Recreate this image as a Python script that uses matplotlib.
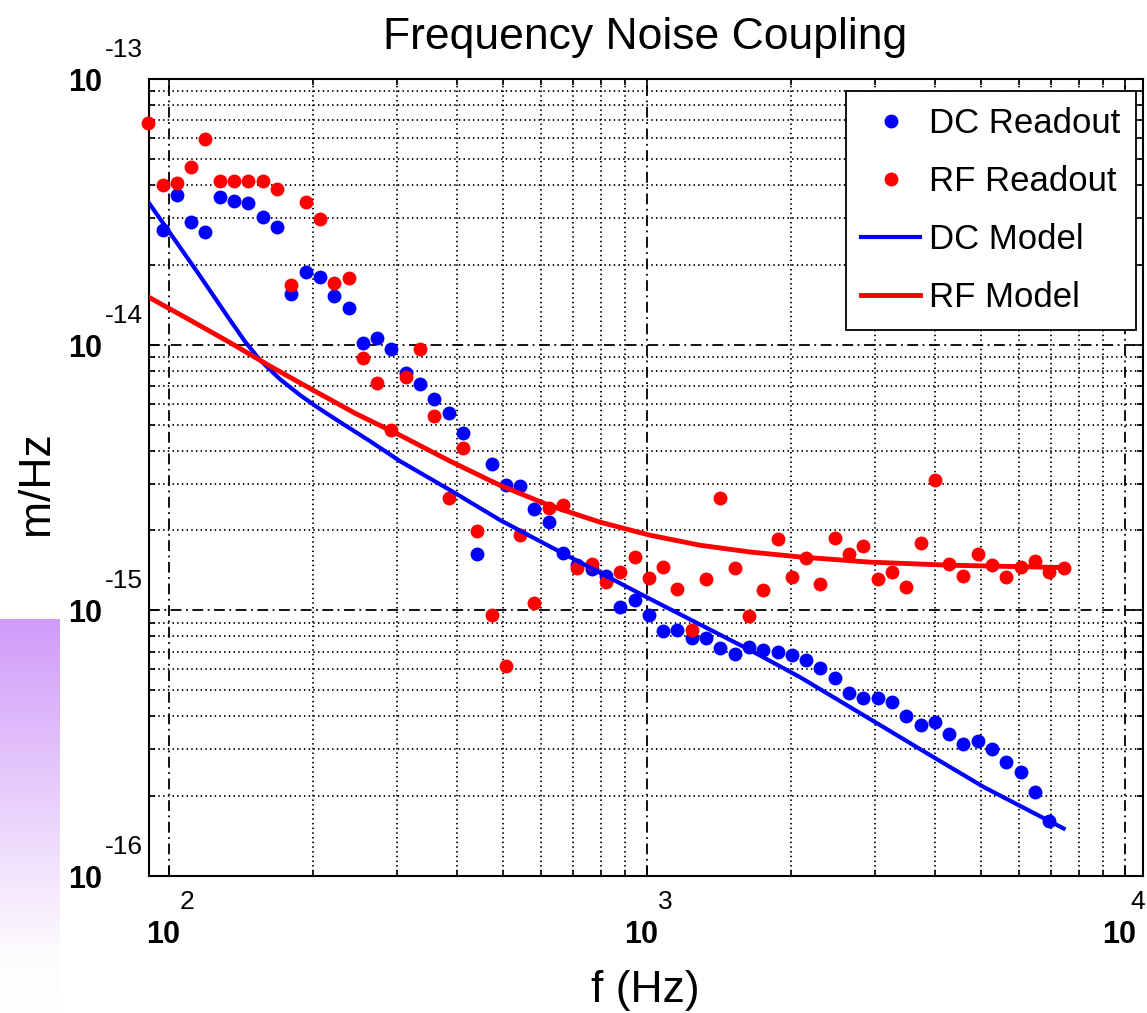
import numpy as np
import matplotlib
matplotlib.use("Agg")
import matplotlib.pyplot as plt
from matplotlib.ticker import LogLocator, NullFormatter
from matplotlib.colors import LinearSegmentedColormap

# frequencies of the measured points (Hz)
freq = [90.4, 96.8, 103.7, 111.1, 119.0, 127.5, 136.6, 146.4, 156.8, 168.0,
        180.0, 192.9, 206.6, 221.3, 237.2, 254.1, 272.2, 291.5, 312.4, 334.6,
        358.5, 384.0, 411.4, 440.9, 472.3, 505.8, 541.9, 580.5, 622.2, 666.5,
        714.0, 764.9, 819.4, 877.9, 940.4, 1007, 1079, 1156, 1239, 1327,
        1422, 1523, 1631, 1748, 1873, 2006, 2149, 2302, 2467, 2642,
        2831, 3033, 3249, 3481, 3729, 3995, 4280, 4585, 4912, 5262,
        5637, 6039, 6470, 6934, 7429]

dc_readout = [np.nan, 2.71e-14, 3.67e-14, 2.91e-14, 2.67e-14, 3.61e-14, 3.48e-14, 3.41e-14, 3.04e-14, 2.78e-14,
              1.55e-14, 1.88e-14, 1.80e-14, 1.53e-14, 1.38e-14, 1.02e-14, 1.06e-14, 9.62e-15, 7.83e-15, 7.10e-15,
              6.25e-15, 5.52e-15, 4.67e-15, 1.63e-15, 3.55e-15, 2.96e-15, 2.95e-15, 2.41e-15, 2.15e-15, 1.64e-15,
              1.48e-15, 1.43e-15, 1.35e-15, 1.03e-15, 1.09e-15, 9.60e-16, 8.36e-16, 8.43e-16, 7.84e-16, 7.88e-16,
              7.23e-16, 6.85e-16, 7.26e-16, 7.09e-16, 6.98e-16, 6.79e-16, 6.50e-16, 6.05e-16, 5.57e-16, 4.87e-16,
              4.70e-16, 4.70e-16, 4.53e-16, 4.01e-16, 3.70e-16, 3.80e-16, 3.44e-16, 3.15e-16, 3.22e-16, 3.00e-16,
              2.68e-16, 2.47e-16, 2.07e-16, 1.61e-16, np.nan]

rf_readout = [6.83e-14, 4.00e-14, 4.06e-14, 4.69e-14, 5.94e-14, 4.15e-14, 4.15e-14, 4.15e-14, 4.15e-14, 3.85e-14,
              1.68e-14, 3.46e-14, 2.97e-14, 1.71e-14, 1.79e-14, 8.90e-15, 7.16e-15, 4.78e-15, 7.58e-15, 9.62e-15,
              5.41e-15, 2.66e-15, 4.08e-15, 1.99e-15, 9.60e-16, 6.17e-16, 1.93e-15, 1.07e-15, 2.43e-15, 2.49e-15,
              1.44e-15, 1.50e-15, 1.28e-15, 1.39e-15, 1.59e-15, 1.33e-15, 1.46e-15, 1.20e-15, 8.43e-16, 1.31e-15,
              2.65e-15, 1.44e-15, 9.54e-16, 1.19e-15, 1.86e-15, 1.34e-15, 1.58e-15, 1.26e-15, 1.87e-15, 1.63e-15,
              1.75e-15, 1.31e-15, 1.39e-15, 1.23e-15, 1.79e-15, 3.10e-15, 1.50e-15, 1.35e-15, 1.63e-15, 1.48e-15,
              1.34e-15, 1.46e-15, 1.54e-15, 1.39e-15, 1.45e-15]

# model curves
dc_model_freq = [90.7, 102.8, 115.9, 134.0, 144.0, 154.8, 170.4, 187.7, 206.7, 227.6,
                 263.0, 303.8, 386.6, 491.8, 666.2, 998.6, 1640, 2086, 2923, 3999,
                 5063, 7429]
dc_model = [3.42e-14, 2.48e-14, 1.82e-14, 1.24e-14, 1.03e-14, 8.77e-15, 7.43e-15, 6.47e-15, 5.73e-15, 5.12e-15,
            4.34e-15, 3.65e-15, 2.84e-15, 2.19e-15, 1.64e-15, 1.12e-15, 7.09e-16, 5.61e-16, 3.90e-16, 2.78e-16,
            2.16e-16, 1.51e-16]

rf_model_freq = [90.7, 110.5, 134.0, 162.4, 199.7, 244.6, 303.8, 386.6, 491.8, 625.8,
                 796.2, 1013, 1289, 1640, 2086, 2923, 4298, 7429]
rf_model = [1.51e-14, 1.24e-14, 1.02e-14, 8.32e-15, 6.76e-15, 5.53e-15, 4.57e-15, 3.65e-15, 2.96e-15, 2.48e-15,
            2.15e-15, 1.92e-15, 1.76e-15, 1.66e-15, 1.59e-15, 1.52e-15, 1.48e-15, 1.45e-15]

plt.rcParams["font.family"] = ["Liberation Sans", "DejaVu Sans"]

W, H = 1147, 1013
fig = plt.figure(figsize=(W / 100, H / 100), dpi=100)

# purple gradient strip at lower left
gax = fig.add_axes([0, 0, 60 / W, (H - 619) / H])
cmap = LinearSegmentedColormap.from_list("strip", [(0, "#ffffff"), (0.15, "#fdfbfe"), (1, "#d09cf9")])
grad = np.linspace(0, 1, 200).reshape(-1, 1)
gax.imshow(grad, aspect="auto", cmap=cmap, origin="lower")
gax.axis("off")

ax = fig.add_axes([149 / W, 1 - 876 / H, (1143 - 149) / W, (876 - 79.3) / H])
ax.set_xscale("log")
ax.set_yscale("log")

ax.plot(freq, dc_readout, "o", color="#0000ff", ms=10, mew=0, label="DC Readout", zorder=3, clip_on=False)
ax.plot(freq, rf_readout, "o", color="#ff0000", ms=10, mew=0, label="RF Readout", zorder=3, clip_on=False)
ax.plot(dc_model_freq, dc_model, "-", color="#0000ff", lw=3.0, label="DC Model", zorder=4)
ax.plot(rf_model_freq, rf_model, "-", color="#ff0000", lw=3.5, label="RF Model", zorder=4)

ax.set_xlim(90.7, 10890)
ax.set_ylim(1e-16, 1e-13)

for axis in (ax.xaxis, ax.yaxis):
    axis.set_major_locator(LogLocator(base=10, numticks=10))
    axis.set_minor_locator(LogLocator(base=10, subs=np.arange(2, 10), numticks=30))
    axis.set_major_formatter(NullFormatter())
    axis.set_minor_formatter(NullFormatter())

ax.set_axisbelow(True)
ax.grid(which="major", color="black", lw=1.3, linestyle=(0, (6, 2.5, 1, 2.5)))
ax.grid(which="minor", color="black", lw=1.3, linestyle=(0, (0.8, 1.8)))
ax.tick_params(which="both", direction="in", top=True, right=True, width=1.2, color="black")
ax.tick_params(which="major", length=7)
ax.tick_params(which="minor", length=4)
for sp in ax.spines.values():
    sp.set_linewidth(1.5)
    sp.set_color("black")

# MATLAB-style tick labels: "10" with raised exponent
for k in [2, 3, 4]:
    ax.annotate("10", xy=(10.0 ** k, 0), xycoords=("data", "axes fraction"), xytext=(-6, -59),
                textcoords="offset pixels", ha="center", va="center", fontsize=22, fontweight="bold",
                annotation_clip=False)
    ax.annotate(str(k), xy=(10.0 ** k, 0), xycoords=("data", "axes fraction"),
                xytext=(18 if k < 4 else 12, -26),
                textcoords="offset pixels", ha="center", va="center", fontsize=19, annotation_clip=False)
for k in [-13, -14, -15, -16]:
    ax.annotate("10", xy=(0, 10.0 ** k), xycoords=("axes fraction", "data"), xytext=(-47, -4),
                textcoords="offset pixels", ha="right", va="center", fontsize=22, fontweight="bold",
                annotation_clip=False)
    ax.annotate(str(k), xy=(0, 10.0 ** k), xycoords=("axes fraction", "data"), xytext=(-44, 29),
                textcoords="offset pixels", ha="left", va="center", fontsize=19, annotation_clip=False)

fig.text(645 / W, 1 - 49 / H, "Frequency Noise Coupling", ha="center", va="baseline", fontsize=32)
fig.text(645 / W, 1 - 1002 / H, "f (Hz)", ha="center", va="baseline", fontsize=32)
fig.text(48 / W, 1 - 483 / H, "m/Hz", ha="center", va="baseline", rotation=90,
         rotation_mode="anchor", fontsize=32)

leg = ax.legend(loc="upper right", bbox_to_anchor=(0.993, 0.985), borderaxespad=0, fontsize=25,
                frameon=True, fancybox=False, edgecolor="black", framealpha=1, handlelength=1.7,
                handletextpad=0.25, labelspacing=0.72, borderpad=0.45, markerscale=1.0)
leg.get_frame().set_linewidth(1.3)

fig.savefig("out.png", dpi=100)
